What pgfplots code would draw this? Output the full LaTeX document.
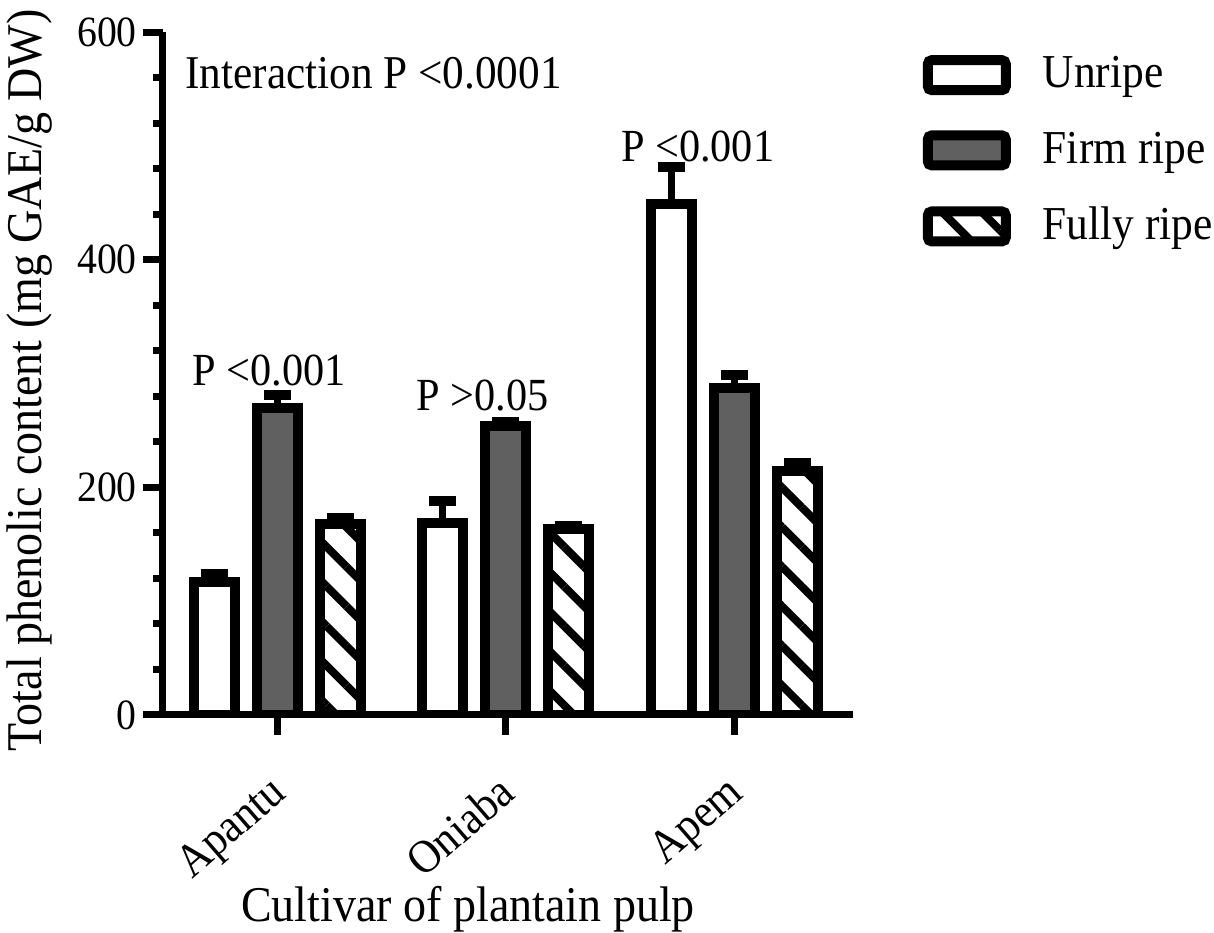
\documentclass[border=0pt]{standalone}
\usepackage{pgfplots}
\pgfplotsset{compat=1.18}
\usepackage{fontspec}
\setmainfont[FakeStretch=0.92]{Liberation Serif}
\usetikzlibrary{patterns.meta}
\definecolor{firm}{RGB}{96,96,96}
\begin{document}
\begin{tikzpicture}
\path[use as bounding box] (0,0) rectangle (303.5pt,233.25pt);
\begin{axis}[
  at={(40.75pt,54.5pt)}, anchor=south west,
  scale only axis, width=172.5pt, height=170.75pt,
  xmin=-0.5, xmax=2.52, ymin=0, ymax=600,
  axis x line*=bottom, axis y line*=left,
  axis line style={line width=1.75pt, -},
  ybar=5.5pt, bar width=10.25pt,
  xtick={0,1,2}, xticklabels={Apantu,Oniaba,Apem},
  ytick={0,200,400,600}, minor y tick num=4,
  tick align=outside,
  major tick length=5pt, minor tick length=2.5pt,
  tick style={line width=1.75pt, black},
  x tick label style={rotate=41, anchor=north east, xshift=-4.5pt, yshift=-2pt, font=\fontsize{11.7}{14}\selectfont},
  y tick label style={xshift=2pt, font=\fontsize{10.8}{12}\selectfont},
  /pgf/number format/assume math mode=true,
  xlabel={Cultivar of plantain pulp},
  ylabel={Total phenolic content (mg GAE/g DW)},
  label style={font=\fontsize{12.5}{14}\selectfont},
  xlabel style={at={(axis description cs:0.442,-0.285)}, anchor=center},
  ylabel style={at={(axis description cs:-0.193,0.49)}, anchor=center},
  legend style={at={(rel axis cs:1.10,0.977)}, anchor=north west, draw=none, fill=none,
    font=\fontsize{11.8}{13}\selectfont, row sep=5.5pt, column sep=6pt, inner sep=0pt, cells={anchor=west}},
  mylegend/.style={legend image code/.code={\draw[##1, line width=2.5pt, rounded corners=1pt] (0pt,-3.75pt) rectangle (19.5pt,3.75pt);}},
  myerr/.style={error bars/.cd, y dir=plus, y explicit,
    error bar style={line width=1.75pt, black, solid},
    error mark options={line width=2.5pt, mark size=3.4pt, black, solid, rotate=90}},
]
\addplot[fill=white, draw=black, line width=2.5pt, mylegend, myerr]
  coordinates {(0,117) +- (0,7) (1,169) +- (0,19) (2,449) +- (0,32)};
\addlegendentry{Unripe}
\addplot[fill=firm, draw=black, line width=2.5pt, mylegend, myerr]
  coordinates {(0,270) +- (0,11) (1,254) +- (0,3) (2,287) +- (0,12)};
\addlegendentry{Firm ripe}
\addplot[pattern={Lines[angle=-45, distance=7pt, line width=2pt]}, draw=black, line width=2.5pt, mylegend, myerr]
  coordinates {(0,168) +- (0,5) (1,163) +- (0,3) (2,214) +- (0,7)};
\addlegendentry{Fully ripe}
\node[anchor=west, inner sep=0pt, font=\fontsize{11.75}{13}\selectfont] at (axis cs:-0.405,564) {Interaction P <0.0001};
\node[inner sep=0pt, font=\fontsize{11.5}{13}\selectfont] at (axis cs:-0.035,303) {P <0.001};
\node[inner sep=0pt, font=\fontsize{11.5}{13}\selectfont] at (axis cs:0.90,281) {P >0.05};
\node[inner sep=0pt, font=\fontsize{11.5}{13}\selectfont] at (axis cs:1.84,499) {P <0.001};
\end{axis}
\end{tikzpicture}
\end{document}
